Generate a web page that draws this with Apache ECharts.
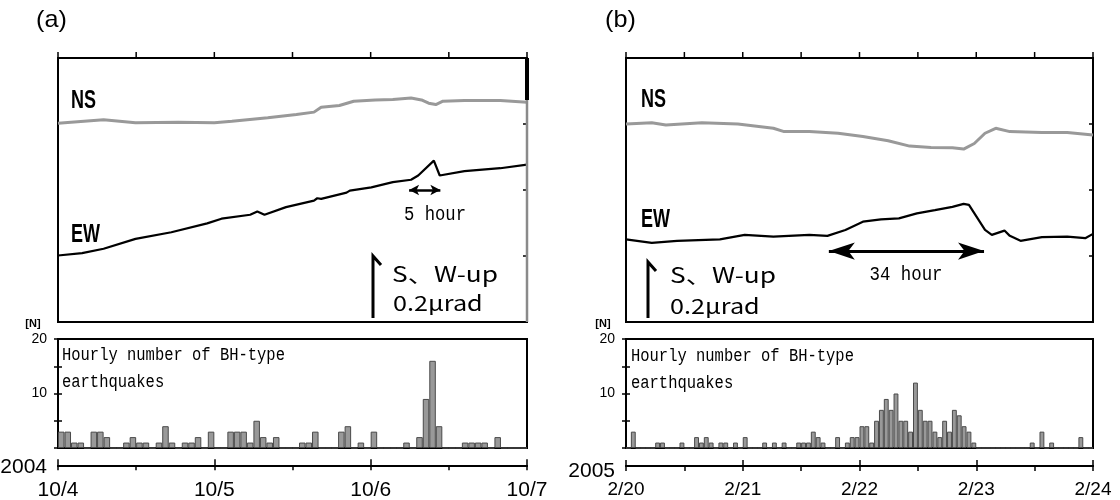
<!DOCTYPE html>
<html><head><meta charset="utf-8">
<script src="https://cdn.jsdelivr.net/npm/echarts@6/dist/echarts.min.js"></script>
<style>html,body{margin:0;padding:0;background:#fff}#c{width:1120px;height:500px}</style>
</head><body><div id="c"></div>
<script>
// ---------- Panel (a): 2004, hours since 10/4 00:00 ----------
const nsA_h = [0, 7.0, 11.9, 18.5, 24.0, 26.7, 32.2, 36.6, 39.3, 40.4, 43.2, 45.4, 48.7, 51.4, 54.2, 55.8, 56.9, 58.0, 59.1, 62.4, 67.9, 72];
const nsA   = [0.602, 0.613, 0.604, 0.605, 0.604, 0.608, 0.619, 0.629, 0.636, 0.651, 0.656, 0.669, 0.673, 0.674, 0.679, 0.673, 0.663, 0.659, 0.669, 0.671, 0.671, 0.666];
const ewA_h = [0, 3.7, 7.0, 11.9, 17.4, 22.9, 25.1, 29.5, 30.6, 31.7, 35.0, 39.3, 39.8, 40.4, 44.3, 44.8, 48.1, 51.4, 54.2, 55.3, 57.7, 58.6, 62.4, 67.9, 72];
const ewA   = [0.2015, 0.2085, 0.222, 0.252, 0.272, 0.299, 0.313, 0.325, 0.335, 0.325, 0.348, 0.368, 0.375, 0.373, 0.392, 0.398, 0.408, 0.424, 0.431, 0.444, 0.489, 0.444, 0.457, 0.466, 0.477];
const histA = [3,3,1,1,0,3,3,2,0,0, 1,2,1,1,0,1,4,1,0,1, 1,2,0,3,0,0,3,3,3,1, 5,2,1,2,0,0,0,1,1,3, 0,0,0,3,4,0,1,0,3,0, 0,0,0,1,0,2,9,16,4,0, 0,0,1,1,1,1,0,2,0,0, 0,0];
const daysA = ['10/4','10/5','10/6','10/7'];

// ---------- Panel (b): 2005, hours since 2/20 00:00 ----------
const nsB_h = [0, 5.3, 8.2, 15.6, 23.0, 30.3, 32.5, 37.7, 43.6, 48.7, 53.9, 58.3, 62.7, 67.1, 69.4, 71.6, 73.8, 76.0, 78.9, 85.5, 90.7, 96];
const nsB   = [0.600, 0.604, 0.597, 0.604, 0.600, 0.587, 0.577, 0.577, 0.572, 0.562, 0.549, 0.533, 0.529, 0.528, 0.524, 0.541, 0.572, 0.587, 0.577, 0.574, 0.574, 0.567];
const ewB_h = [0, 5.3, 10.5, 19.3, 24.4, 30.3, 37.7, 41.4, 45.1, 48.7, 52.4, 56.1, 59.8, 63.5, 67.1, 69.4, 70.5, 73.8, 75.2, 77.8, 78.9, 81.1, 85.5, 90.7, 94.4, 96];
const ewB   = [0.2505, 0.240, 0.246, 0.2505, 0.264, 0.259, 0.264, 0.261, 0.279, 0.304, 0.311, 0.314, 0.329, 0.339, 0.349, 0.358, 0.355, 0.279, 0.264, 0.277, 0.261, 0.246, 0.257, 0.259, 0.254, 0.267];
const histB = [0,3,0,0,0,0,1,1,0,0, 0,1,0,0,2,1,2,1,0,1, 1,0,1,0,2,0,0,0,1,0, 1,0,1,0,0,1,1,1,3,2, 1,0,0,2,0,1,2,2,4,4, 1,5,7,9,7,10,5,5,3,12, 7,5,5,3,2,5,3,7,6,4, 3,1,0,0,0,0,0,0,0,0, 0,0,0,1,0,3,0,1,0,0, 0,0,0,2,0,0];
const daysB = ['2/20','2/21','2/22','2/23','2/24'];

const histTickLabels = ['', '', '10', '', '20'];   // at 0,5,10,15,20
// annotation arrows (data coordinates: from hour, to hour, µrad level)
const arrowA = [53.9, 58.7, 0.40];
const arrowB = [41.7, 73.6, 0.215];

const zip = (h, v) => h.map((x, i) => [x, v[i]]);
const SANS = 'Liberation Sans, Arial, sans-serif';
const MONO = 'Liberation Mono, DejaVu Sans Mono, monospace';
const CJK = '"Noto Sans CJK JP", sans-serif';

function panel(idx, left, width, hours, hist, days) {
  const g = idx * 3;
  const tick = (inside, len) => ({show: true, inside, length: len, lineStyle: {color: '#000', width: 1.5}});
  const line = {show: true, onZero: false, lineStyle: {color: '#000', width: 2}};
  const grids = [
    {left, top: 58, width, height: 264, show: true, borderColor: '#000', borderWidth: 2},
    {left, top: 339, width, height: 109, show: true, borderColor: '#000', borderWidth: 2},
    {left, top: 465, width, height: 1, show: false}
  ];
  const xAxes = [
    {gridIndex: g, type: 'value', min: 0, max: hours, interval: 12, show: false},
    {gridIndex: g + 1, type: 'category', data: hist.map((_, i) => String(i)), show: false, boundaryGap: true},
    {gridIndex: g + 2, type: 'value', min: 0, max: hours, interval: 12, position: 'bottom',
     axisLine: line, axisTick: tick(false, 5),
     axisLabel: {show: true, margin: 14, color: '#000', fontFamily: SANS, fontSize: idx === 0 ? 21 : 19,
       formatter: v => (v % 24 === 0 ? days[v / 24] : '')},
     splitLine: {show: false}},
    {gridIndex: g + 2, type: 'value', min: 0, max: hours, interval: 24, position: 'bottom',
     axisLine: line, axisTick: tick(true, 6),
     axisLabel: {show: false}, splitLine: {show: false}}
  ];
  const yAxes = [
    {gridIndex: g, type: 'value', min: 0, max: 0.8, interval: 0.2, position: 'right',
     axisLine: line, axisTick: tick(true, 4),
     axisLabel: {show: false}, splitLine: {show: false}},
    {gridIndex: g + 1, type: 'value', min: 0, max: 20, interval: 5, position: 'left',
     axisLine: line, axisTick: tick(false, 4),
     axisLabel: {show: true, margin: 11, color: '#000', fontFamily: SANS, fontSize: 14, formatter: v => histTickLabels[v / 5]},
     splitLine: {show: false}},
    {gridIndex: g + 1, type: 'value', min: 0, max: 20, interval: 5, position: 'left',
     axisLine: line, axisTick: tick(true, 4),
     axisLabel: {show: false}, splitLine: {show: false}},
    {gridIndex: g + 2, type: 'value', min: 0, max: 1, show: false}
  ];
  return {grids, xAxes, yAxes};
}

const pa = panel(0, 58, 469, 72, histA, daysA);
const pb = panel(1, 626, 467, 96, histB, daysB);

function series(xo, yo, ns, nsH, ew, ewH, hist, arrow, aSize, aWidth) {
  return [
    {type: 'line', xAxisIndex: xo, yAxisIndex: yo, data: zip(nsH, ns), symbol: 'none', silent: true,
     lineStyle: {color: '#999999', width: 3}, z: 3},
    {type: 'line', xAxisIndex: xo, yAxisIndex: yo, data: zip(ewH, ew), symbol: 'none', silent: true,
     lineStyle: {color: '#000', width: 2.2}, z: 4,
     markLine: {silent: true, symbol: ['arrow', 'arrow'], symbolSize: aSize, label: {show: false},
       lineStyle: {color: '#000', width: aWidth, type: 'solid'},
       data: [[{coord: [arrow[0], arrow[2]]}, {coord: [arrow[1], arrow[2]]}]]}},
    {type: 'bar', xAxisIndex: xo + 1, yAxisIndex: yo + 1, data: hist, barCategoryGap: '0%', silent: true,
     itemStyle: {color: '#999999', borderColor: '#4a4a4a', borderWidth: 1}}
  ];
}

const allSeries = series(0, 0, nsA, nsA_h, ewA, ewA_h, histA, arrowA, [8, 10], 2.5)
  .concat(series(4, 4, nsB, nsB_h, ewB, ewB_h, histB, arrowB, [13, 26], 3));

function txt(text, x, y, font, align, sx) {
  return {type: 'text', x, y, scaleX: sx || 1, z: 100, silent: true,
    style: {text, font, fill: '#000', align: align || 'left', verticalAlign: 'middle'}};
}
function pl(points, w, color) {
  return {type: 'polyline', z: 100, silent: true, shape: {points}, style: {stroke: color || '#000', lineWidth: w, fill: null}};
}

const NSF = 'bold 25px ' + SANS;
const graphics = [
  txt('(a)', 36, 20, '24px ' + SANS, 'left', 1.05),
  txt('(b)', 605, 20, '24px ' + SANS, 'left', 1.05),
  txt('NS', 71, 101, NSF, 'left', 0.72),
  txt('EW', 71, 235, NSF, 'left', 0.72),
  txt('NS', 641, 100, NSF, 'left', 0.72),
  txt('EW', 641, 220, NSF, 'left', 0.72),
  txt('5 hour', 435, 215, '20px ' + MONO, 'center', 0.86),
  txt('34 hour', 906, 275, '20px ' + MONO, 'center', 0.87),
  txt('S、W-up', 392, 274, '21px ' + CJK, 'left', 1.25),
  txt('0.2μrad', 393, 303, '21px ' + CJK, 'left', 1.2),
  txt('S、W-up', 670, 275, '21px ' + CJK, 'left', 1.25),
  txt('0.2μrad', 670, 306, '21px ' + CJK, 'left', 1.2),
  txt('Hourly number of BH-type', 62, 355, '18px ' + MONO, 'left', 0.86),
  txt('earthquakes', 62, 382, '18px ' + MONO, 'left', 0.86),
  txt('Hourly number of BH-type', 631, 356, '18px ' + MONO, 'left', 0.86),
  txt('earthquakes', 631, 383, '18px ' + MONO, 'left', 0.86),
  txt('[N]', 33, 324, 'bold 11px ' + SANS, 'center'),
  txt('[N]', 603, 324, 'bold 11px ' + SANS, 'center'),
  txt('2004', 47, 467, '21px ' + SANS, 'right'),
  txt('2005', 615, 471, '21px ' + SANS, 'right'),
  pl([[373, 318], [373, 256], [381, 265]], 3),
  pl([[648, 318], [648, 262], [656, 271]], 3),
  pl([[527, 58], [527, 100]], 4),
  pl([[527, 100], [527, 322]], 2.5, '#8a8a8a')
];

const chart = echarts.init(document.getElementById('c'), null, {renderer: 'canvas'});
const option = {
  animation: false,
  backgroundColor: '#fff',
  grid: pa.grids.concat(pb.grids),
  xAxis: pa.xAxes.concat(pb.xAxes),
  yAxis: pa.yAxes.concat(pb.yAxes),
  series: allSeries,
  graphic: {elements: graphics}
};
chart.setOption(option);

// Outward ticks along the top edge of each tilt panel, placed through the panel's own time axis
const topTicks = [];
[[0, 72], [4, 96]].forEach(([xi, hours]) => {
  const yTop = chart.convertToPixel({yAxisIndex: xi}, 0.8);
  for (let h = 0; h <= hours; h += 12) {
    const px = chart.convertToPixel({xAxisIndex: xi}, h);
    topTicks.push(pl([[px, yTop], [px, yTop - 6]], 1.5));
  }
});
chart.setOption({graphic: {elements: graphics.concat(topTicks)}});
</script></body></html>
